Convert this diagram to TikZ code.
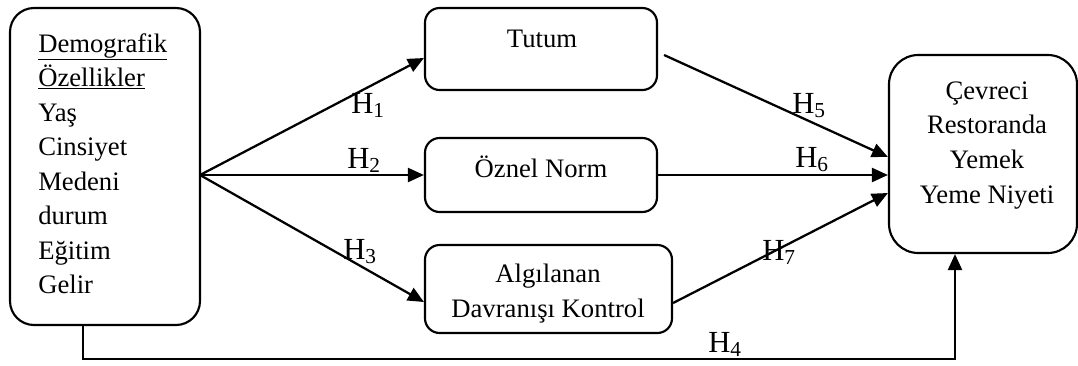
\documentclass[tikz,border=0pt]{standalone}
\usepackage{fontspec}
\setmainfont{Liberation Serif}
\usetikzlibrary{arrows.meta,calc}

\begin{document}
\begin{tikzpicture}[x=0.75pt,y=-0.75pt,
  box/.style={draw, line width=1.6pt, inner sep=0pt, rounded corners=11pt},
  txt/.style={inner sep=0pt, font=\fontsize{20}{24}\selectfont},
  hlab/.style={inner sep=0pt, font=\fontsize{23}{27}\selectfont},
  arr/.style={line width=1.7pt, -{Triangle[length=12pt,width=10.5pt]}}]
\useasboundingbox (0,0) rectangle (1078,365);

% boxes
\node[box, rounded corners=18pt, minimum width=142.5pt, minimum height=237.75pt] (demo) at (105,166.5) {};
\node[box, minimum width=174pt, minimum height=61.5pt] (tutum) at (541,49) {};
\node[box, minimum width=174pt, minimum height=55.5pt] (oznel) at (541,175) {};
\node[box, minimum width=185.25pt, minimum height=66pt] (algi) at (548.5,289) {};
\node[box, rounded corners=22pt, minimum width=141pt, minimum height=148.5pt] (goal) at (983,154) {};

% texts of the demographic box
\foreach \t [count=\i from 0] in {{\underline{Demografik}},{\underline{Özellikler}},Yaş,Cinsiyet,Medeni,durum,Eğitim,Gelir}
  \node[txt, anchor=base west] (demo\i) at (38,52+34.5*\i) {\t};

\node[txt, anchor=base] (tutumt) at (542,47) {Tutum};
\node[txt, anchor=base] (oznelt) at (541,177) {Öznel Norm};
\node[txt, anchor=base] (algit1) at (548,282) {Algılanan};
\node[txt, anchor=base] (algit2) at (548,317) {Davranışı Kontrol};

\foreach \t [count=\i from 0] in {Çevreci,Restoranda,Yemek,Yeme Niyeti}
  \node[txt, anchor=base] (goal\i) at (987,99+34.7*\i) {\t};

% connectors
\coordinate (src) at (200,175);
\draw[arr] (src) -- ([yshift=-6.75pt]tutum.west);
\draw[arr] (src) -- (oznel.west);
\draw[arr] (src) -- ([yshift=-9.75pt]algi.west);
\draw[arr] ([shift={(6,6)}]tutum.east) -- ([shift={(0,3)}]goal.west);
\draw[arr] (oznel.east) -- ([shift={(0,21)}]goal.west);
\draw[arr] ([shift={(0,14)}]algi.east) -- ([shift={(0,39)}]goal.west);
\coordinate (h4a) at ([shift={(-22,0)}]demo.south);
\coordinate (h4b) at ([shift={(-28,0)}]goal.south);
\draw[arr] (h4a) -- ++(0,33) -| (h4b);

% hypothesis labels
\newcommand{\hyp}[1]{H\raisebox{-3pt}{\fontsize{16}{16}\selectfont #1}}
\node[hlab, anchor=base west] (h1) at (351,113) {\hyp{1}};
\node[hlab, anchor=base west] (h2) at (347,168) {\hyp{2}};
\node[hlab, anchor=base west] (h3) at (343,259) {\hyp{3}};
\node[hlab, anchor=base west] (h4) at (708,352) {\hyp{4}};
\node[hlab, anchor=base west] (h5) at (792,113) {\hyp{5}};
\node[hlab, anchor=base west] (h6) at (795,167) {\hyp{6}};
\node[hlab, anchor=base west] (h7) at (762,260) {\hyp{7}};
\end{tikzpicture}
\end{document}
